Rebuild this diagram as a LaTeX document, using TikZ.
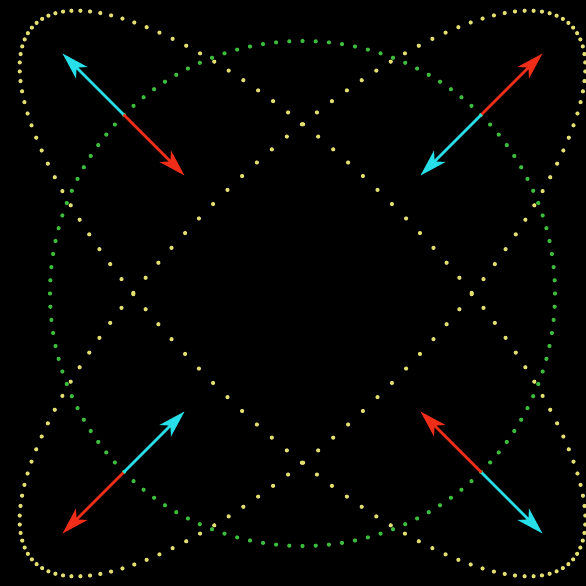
\documentclass[tikz,border=0pt]{standalone}
\usetikzlibrary{arrows.meta}
\definecolor{dotyellow}{RGB}{226,222,112}
\definecolor{dotgreen}{RGB}{60,190,60}
\definecolor{arrcyan}{RGB}{40,222,232}
\definecolor{arrred}{RGB}{240,45,25}
\tikzset{
  ydot/.style={fill=dotyellow},
  gdot/.style={fill=dotgreen},
  halfarrow/.style={line width=2.8pt, -{Stealth[length=27pt,width=16pt,inset=7pt]}},
}
\begin{document}
\begin{tikzpicture}[x=1pt,y=-1pt]
\useasboundingbox (0,0) rectangle (586,586);
\fill[black] (0,0) rectangle (586,586);
\def\cx{302.5}
\def\cy{293.5}
\def\ea{379.5}
\def\eb{126.5}
\def\rr{252.5}
% green circle of dots
\foreach \t in {0,3,...,357}{
  \fill[gdot] ({\cx+\rr*cos(\t)},{\cy+\rr*sin(\t)}) circle (2.1);
}
% two yellow ellipses of dots (118 dots each, one on each crossing)
\foreach \k in {0,...,117}{
  \pgfmathsetmacro{\t}{71.7+\k*3.050847}
  \fill[ydot] ({\cx+0.7071*(\ea*cos(\t)+\eb*sin(\t))},{\cy+0.7071*(\ea*cos(\t)-\eb*sin(\t))}) circle (2.1);
  \fill[ydot] ({\cx+0.7071*(\ea*cos(\t)+\eb*sin(\t))},{\cy+0.7071*(-\ea*cos(\t)+\eb*sin(\t))}) circle (2.1);
}
% arrows
\coordinate (tlm) at (123.5,114.5);
\coordinate (tlo) at (62.5,53.5);
\coordinate (tli) at (184.5,175.5);
\coordinate (trm) at (481.5,114.5);
\coordinate (tro) at (542.5,53.5);
\coordinate (tri) at (420.5,175.5);
\coordinate (blm) at (123.5,472.5);
\coordinate (blo) at (62.5,533.5);
\coordinate (bli) at (184.5,411.5);
\coordinate (brm) at (481.5,472.5);
\coordinate (bro) at (542.5,533.5);
\coordinate (bri) at (420.5,411.5);
\draw[halfarrow, arrcyan] (tlm) -- (tlo);
\draw[halfarrow, arrred] (tlm) -- (tli);
\draw[halfarrow, arrred] (trm) -- (tro);
\draw[halfarrow, arrcyan] (trm) -- (tri);
\draw[halfarrow, arrred] (blm) -- (blo);
\draw[halfarrow, arrcyan] (blm) -- (bli);
\draw[halfarrow, arrcyan] (brm) -- (bro);
\draw[halfarrow, arrred] (brm) -- (bri);
\end{tikzpicture}
\end{document}
